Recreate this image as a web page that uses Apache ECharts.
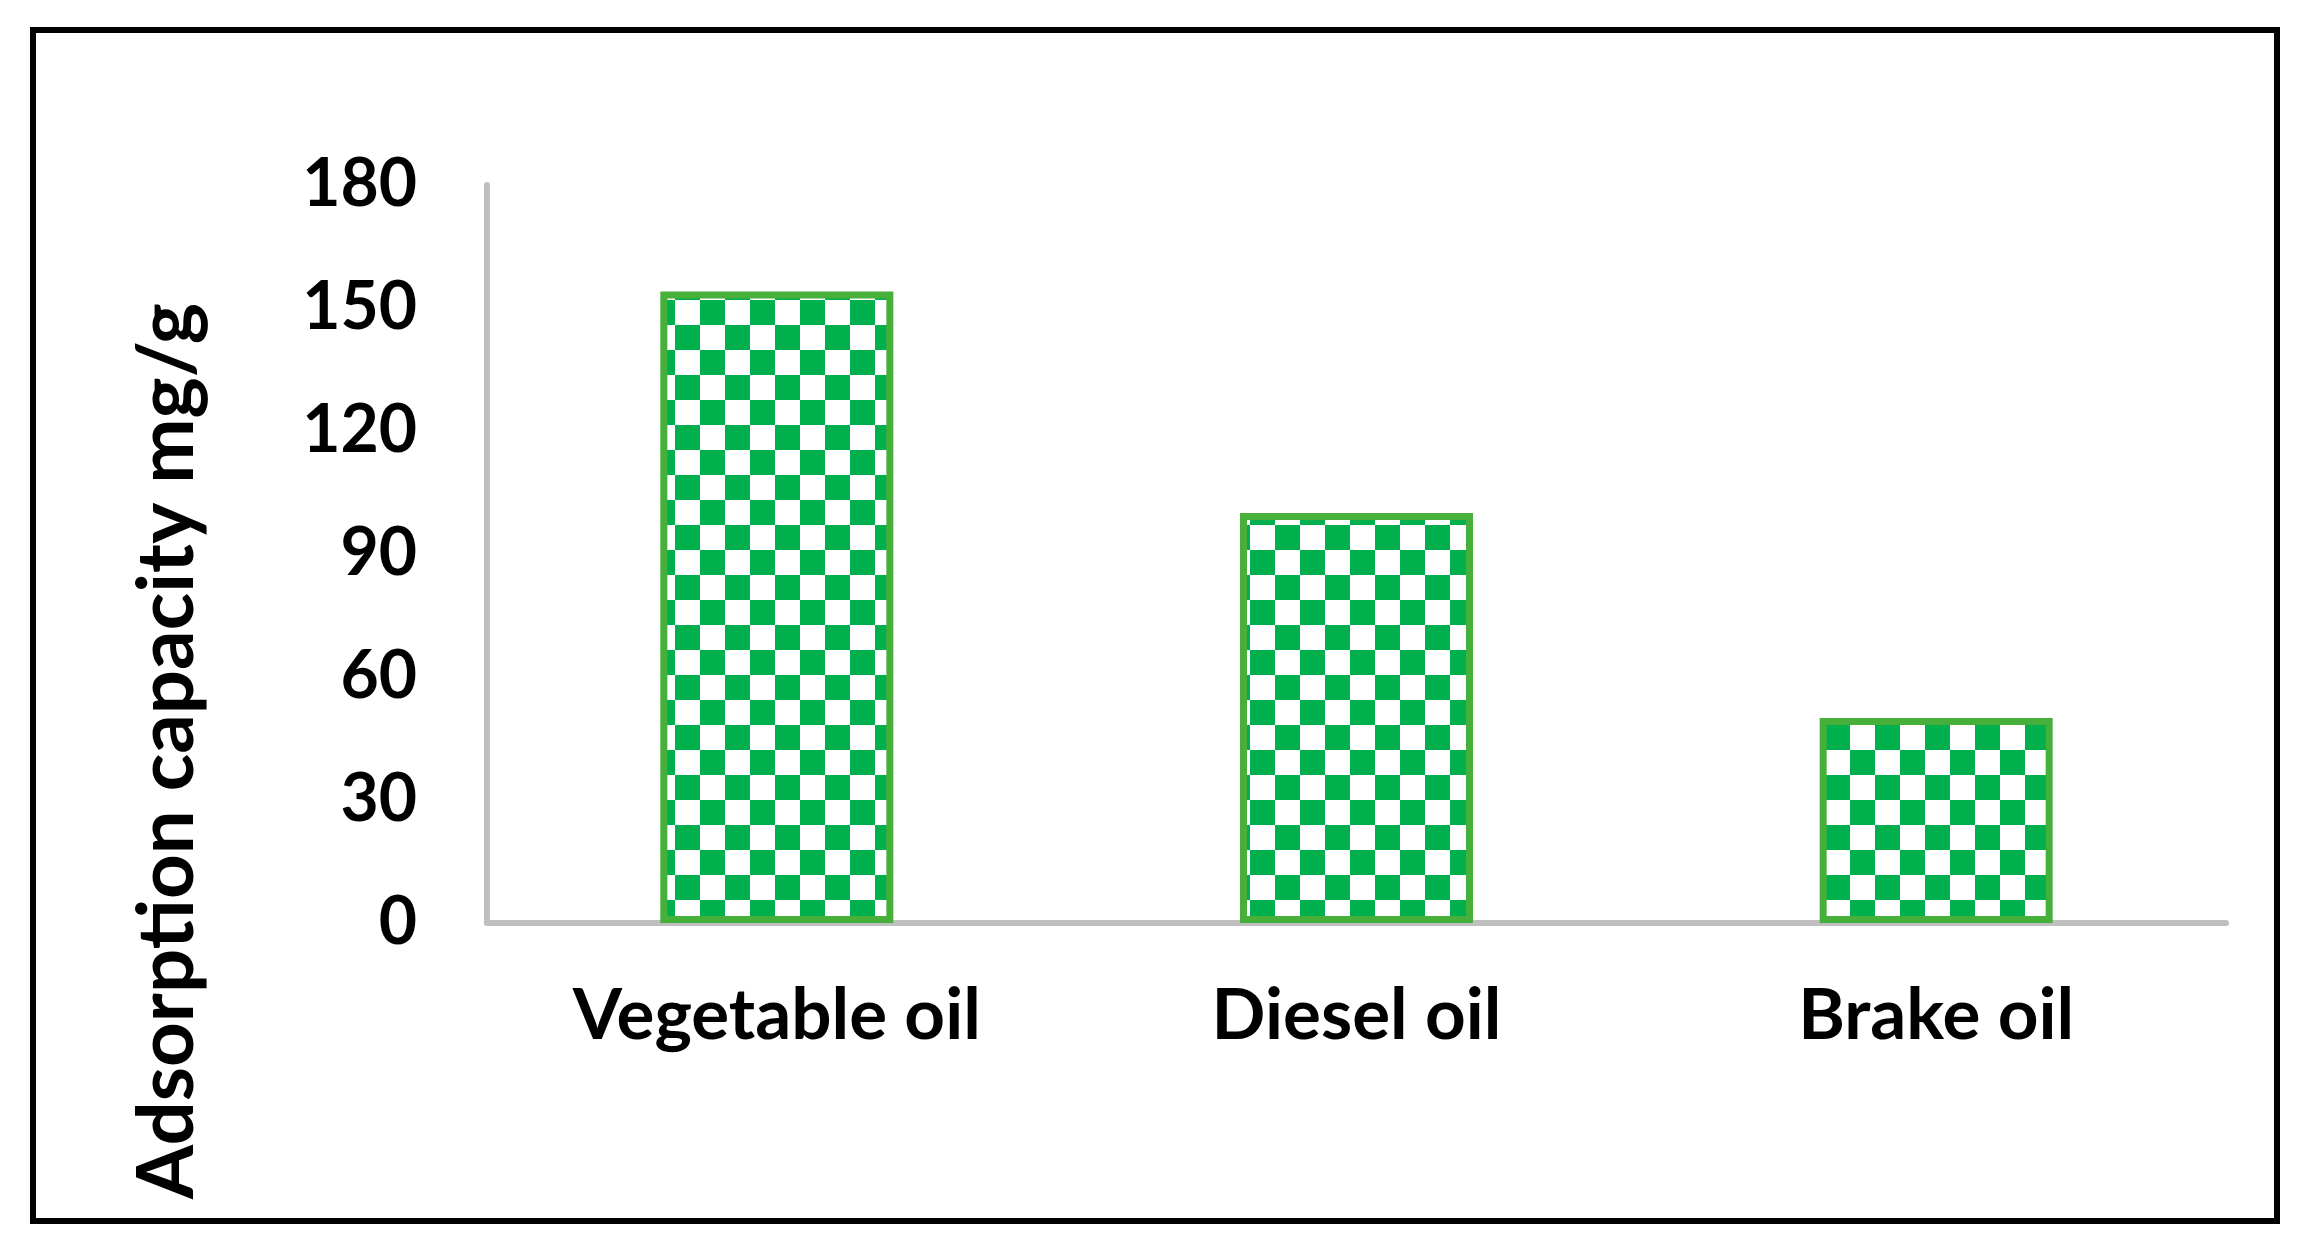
<!DOCTYPE html>
<html>
<head>
<meta charset="utf-8">
<script src="https://cdn.jsdelivr.net/npm/echarts@6/dist/echarts.min.js"></script>
<style>
  html, body { margin: 0; padding: 0; background: #fff; }
  #chart { width: 2309px; height: 1251px; }
</style>
</head>
<body>
<div id="chart"></div>
<script>
// data
const oilTypes = ['Vegetable oil', 'Diesel oil', 'Brake oil'];
const capacityValues = [154, 100, 50];
const yTicks = [0, 30, 60, 90, 120, 150, 180];

// checkerboard fill like the office "large checker" pattern
function makeChecker() {
    let c = document.createElement('canvas');
    c.width = 50;
    c.height = 50;
    let ctx = c.getContext('2d');
    ctx.fillStyle = '#ffffff';
    ctx.fillRect(0, 0, 50, 50);
    ctx.fillStyle = '#00B04C';
    ctx.fillRect(0, 0, 25, 25);
    ctx.fillRect(25, 25, 25, 25);
    return c;
}

let myChart = echarts.init(document.getElementById('chart'));
let option = {
    backgroundColor: '#ffffff',
    animation: false,
    grid: {
        left: 487,
        right: 83,
        top: 185,
        bottom: 328
    },
    xAxis: {
        type: 'category',
        data: oilTypes,
        axisLine: { lineStyle: { color: '#BFBFBF', width: 6 } },
        axisTick: { show: false },
        axisLabel: {
            margin: 58,
            color: '#000',
            fontFamily: 'Lato',
            fontWeight: 'bold',
            fontSize: 71
        }
    },
    yAxis: {
        type: 'value',
        min: yTicks[0],
        max: yTicks[yTicks.length - 1],
        interval: 30,
        axisLine: { show: true, lineStyle: { color: '#BFBFBF', width: 6 } },
        axisTick: { show: false },
        splitLine: { show: false },
        axisLabel: {
            margin: 70,
            color: '#000',
            fontFamily: 'Lato',
            fontWeight: 'bold',
            fontSize: 66
        }
    },
    series: [{
        type: 'bar',
        data: capacityValues,
        barWidth: 233,
        itemStyle: {
            color: { image: makeChecker(), repeat: 'repeat' },
            borderColor: '#47B03A',
            borderWidth: 7
        }
    }],
    graphic: [
        {
            type: 'rect',
            shape: { x: 33, y: 30, width: 2244, height: 1191 },
            style: { fill: 'none', stroke: '#000', lineWidth: 6 },
            z: 10
        },
        {
            type: 'text',
            x: 168,
            y: 751,
            rotation: Math.PI / 2,
            style: {
                text: 'Adsorption capacity mg/g',
                align: 'center',
                verticalAlign: 'middle',
                fill: '#000',
                fontFamily: 'Lato',
                fontWeight: 'bold',
                fontSize: 78
            }
        }
    ]
};
myChart.setOption(option);
window.onresize = function () {
    myChart.resize();
}
</script>
</body>
</html>
